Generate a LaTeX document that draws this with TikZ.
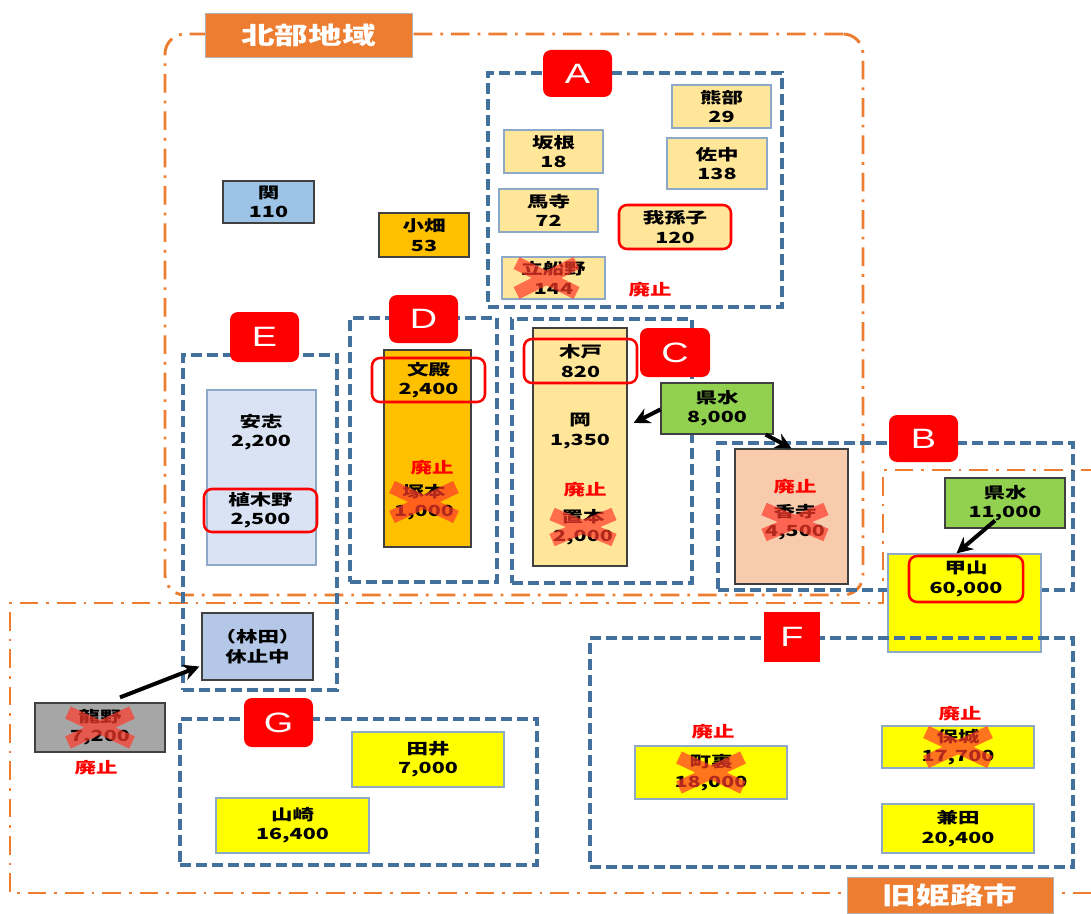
\documentclass[tikz,border=0pt]{standalone}
\usepackage{fontspec}
\newfontfamily\jp{Noto Sans CJK JP}[FakeStretch=1.4]
\newfontfamily\labfont{Liberation Sans}[FakeStretch=1.35]
\usetikzlibrary{arrows.meta,calc}
\definecolor{pyel}{HTML}{FFE699}
\definecolor{gold}{HTML}{FFC000}
\definecolor{lblue}{HTML}{9DC3E6}
\definecolor{pblue}{HTML}{DAE3F3}
\definecolor{sblue}{HTML}{B4C7E7}
\definecolor{kgreen}{HTML}{92D050}
\definecolor{salmon}{HTML}{F8CBAD}
\definecolor{yel}{HTML}{FFFF00}
\definecolor{gbox}{HTML}{A6A6A6}
\definecolor{dgray}{HTML}{404040}
\definecolor{bgray}{HTML}{8EA9C8}
\definecolor{rblue}{HTML}{41719C}
\definecolor{orng}{HTML}{ED7D31}
\definecolor{labred}{HTML}{FF0000}
\definecolor{xred}{HTML}{FF3A2A}
\newcommand\jpb{\jp\bfseries\fontsize{11.5}{14.5}\selectfont}
\newcommand\crossat[3]{\draw[xcross] ($(#1)+(-#2,-#3)$) -- ($(#1)+(#2,#3)$) ($(#1)+(-#2,#3)$) -- ($(#1)+(#2,-#3)$);}
\tikzset{
  px/.style 2 args={minimum width=#1*0.75pt, minimum height=#2*0.75pt},
  box/.style={draw=bgray, line width=0.9pt, inner sep=0pt, align=center, font=\jpb},
  ring/.style={draw=labred, line width=1.9pt, rounded corners=6pt, inner sep=0pt, align=center, font=\jpb},
  txt/.style={inner sep=0pt, align=center, font=\jpb},
  haishi/.style={inner sep=0pt, text=labred, font=\jpb},
  lbl/.style={fill=labred, rounded corners=6pt, inner sep=0pt, text=white, font=\labfont\fontsize{21}{24}\selectfont},
  region/.style={draw=rblue, line width=2.6pt, dash pattern=on 8pt off 4pt, inner sep=0pt},
  orangedd/.style={draw=orng, line width=2.2pt, dash pattern=on 14pt off 6pt on 2pt off 6pt},
  olabel/.style={fill=orng, draw=gray!60, line width=0.5pt, inner sep=0pt, text=white, font=\jp\bfseries\fontsize{18}{22}\selectfont},
  conn/.style={draw=black, line width=3pt, -{Stealth[length=12pt,width=12pt]}},
  xcross/.style={draw=xred, line width=10pt, opacity=0.7}
}
\begin{document}
\begin{tikzpicture}[x=0.75pt,y=-0.75pt]
\useasboundingbox (0,0) rectangle (1091,913);
\fill[white] (0,0) rectangle (1091,913);
% orange outlines
\node[orangedd, rounded corners=15pt, inner sep=0pt, px={698}{561}] (northreg) at (514,314.5) {};
\draw[orangedd] (1100,470) -- (883,470) -- (883,603) -- (10,603) -- (10,893) -- (1100,893);
% blue dashed regions
\node[region, px={294}{234}] (regA) at (635,190) {};
\node[region, px={147}{264}] (regD) at (423.5,450) {};
\node[region, px={180}{264}] (regC) at (602,451) {};
\node[region, px={154}{335}] (regE) at (260,522.5) {};
\node[region, px={355}{147}] (regB) at (895.5,516.5) {};
% standalone boxes
\node[box, fill=lblue, draw=dgray, px={91}{42}] (seki) at (268.5,202) {関\\110};
\node[box, fill=gold, draw=dgray, px={90}{44}] (obata) at (424,235) {小畑\\53};
% A
\node[box, fill=pyel, px={99}{43}] (kumabe) at (721.5,106.5) {熊部\\29};
\node[box, fill=pyel, px={99}{43}] (sakane) at (553.5,151.5) {坂根\\18};
\node[box, fill=pyel, px={100}{51}] (sanaka) at (717,163.5) {佐中\\138};
\node[box, fill=pyel, px={99}{43}] (umadera) at (548.5,210.5) {馬寺\\72};
\node[box, fill=pyel, draw=labred, line width=1.9pt, rounded corners=6pt, px={112}{44}] (abiko) at (675,227) {我孫子\\120};
\node[box, fill=pyel, px={103}{42}] (tatefuneno) at (553.5,278) {立船野\\144};
\node[haishi] (hA) at (650,290) {廃止};
% D
\node[box, fill=gold, draw=dgray, px={87}{197}] (dcol) at (427.5,448.5) {};
\node[ring, px={113}{44}] (bunden) at (428.5,380) {文殿\\2,400};
\node[haishi] (hD) at (432,468) {廃止};
\node[txt] (tsukamoto) at (424,502) {塚本\\1,000};
% C
\node[box, fill=pyel, draw=dgray, px={94}{238}] (ccol) at (580,447) {};
\node[ring, px={113}{44}] (kido) at (580.5,361) {木戸\\820};
\node[txt] (oka) at (580,431) {岡\\1,350};
\node[haishi] (hC) at (585,490) {廃止};
\node[txt] (okimoto) at (583,527) {置本\\2,000};
% E
\node[box, fill=pblue, px={109}{175}] (ecol) at (261.5,477.5) {};
\node[txt] (ajime) at (261,432) {安志\\2,200};
\node[ring, px={113}{43}] (uekino) at (260.5,510.5) {植木野\\2,500};
\node[box, fill=sblue, draw=dgray, px={111}{67}] (hayashida) at (257.5,646.5) {（林田）\\休止中};
% kensui / B
\node[box, fill=kgreen, draw=dgray, px={112}{51}] (ks1) at (717,408.5) {県水\\8,000};
\node[box, fill=salmon, draw=dgray, px={113}{135}] (kodera) at (791.5,516.5) {};
\node[haishi] (hB) at (795,487) {廃止};
\node[txt] (koderaT) at (795,522) {香寺\\4,500};
\node[box, fill=kgreen, draw=dgray, px={120}{50}] (ks2) at (1005,503) {県水\\11,000};
\node[box, fill=yel, px={153}{98}] (kozan) at (964.5,603) {};
\node[ring, px={114}{46}] (kozanT) at (966,579) {甲山\\60,000};
% F, G
\node[region, px={483}{229}] (regF) at (831.5,752.5) {};
\node[region, px={357}{146}] (regG) at (358.5,792) {};
\node[box, fill=gbox, draw=dgray, px={130}{49}] (tatsuno) at (100,727.5) {龍野\\7,200};
\node[haishi] (hT) at (96,768) {廃止};
\node[box, fill=yel, px={152}{55}] (tai) at (428,759.5) {田井\\7,000};
\node[box, fill=yel, px={153}{55}] (yamasaki) at (292.5,825.5) {山崎\\16,400};
\node[box, fill=yel, px={152}{53}] (machiura) at (711,772.5) {町裏\\18,000};
\node[haishi] (hF1) at (713,732) {廃止};
\node[box, fill=yel, px={152}{42}] (hoshiro) at (958,747) {保城\\17,700};
\node[haishi] (hF2) at (960,714) {廃止};
\node[box, fill=yel, px={152}{49}] (kaneda) at (958,828.5) {兼田\\20,400};
% labels
\node[lbl, px={69}{47}] (labA) at (577.5,73.5) {A};
\node[lbl, px={69}{47}] (labB) at (923.5,438.5) {B};
\node[lbl, px={70}{49}] (labC) at (675,352.5) {C};
\node[lbl, px={69}{48}] (labD) at (423.5,319) {D};
\node[lbl, px={69}{50}] (labE) at (264.5,337) {E};
\node[lbl, rounded corners=0pt, px={56}{50}] (labF) at (792,637) {F};
\node[lbl, px={69}{49}] (labG) at (278.5,722.5) {G};
\node[olabel, px={207}{44}] (north) at (308.5,35) {北部地域};
\node[olabel, px={206}{36}] (himeji) at (950,895) {旧姫路市};
% arrows
\draw[conn] ($(ks1.west)+(0,1)$) -- ($(ccol.east)+(6,-24)$);
\draw[conn] ($(ks1.south east)+(-8,0)$) -- (kodera.north);
\draw[conn] ($(ks2.south)+(-10,-8)$) -- ($(kozan.north)+(-8,0)$);
\draw[conn] ($(tatsuno.north)+(20,-5)$) -- ($(hayashida.west)+(-2,20)$);
% crosses
\crossat{$(tatefuneno)+(-7,0)$}{30}{15}
\crossat{tsukamoto}{32}{15}
\crossat{okimoto}{31}{13}
\crossat{koderaT}{31}{13}
\crossat{tatsuno}{32}{15}
\crossat{machiura}{32}{15}
\crossat{hoshiro}{32}{15}
\end{tikzpicture}
\end{document}
